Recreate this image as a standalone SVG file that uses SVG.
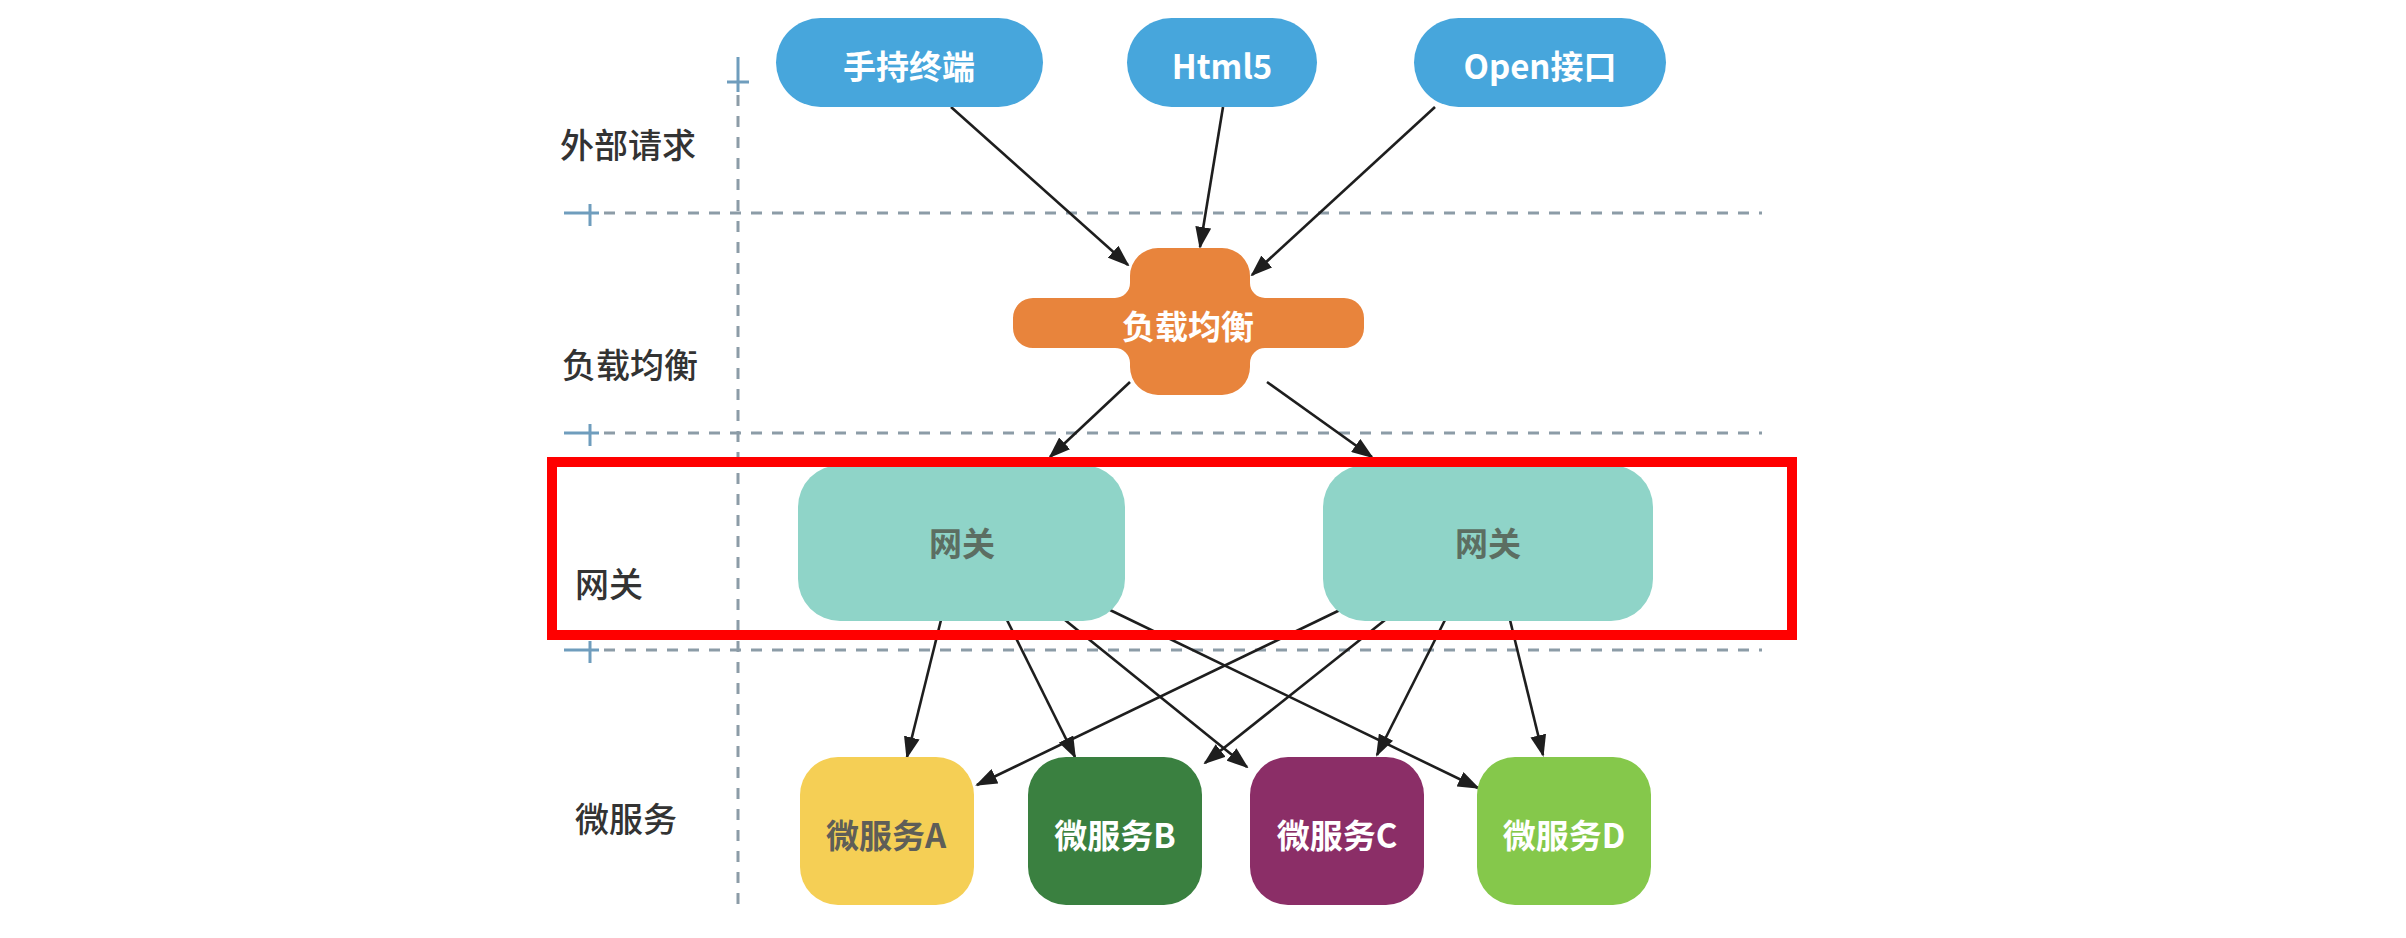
<svg xmlns="http://www.w3.org/2000/svg" width="2406" height="938" viewBox="0 0 2406 938">
<defs>
<marker id="arr" markerUnits="userSpaceOnUse" markerWidth="22" markerHeight="16" refX="20" refY="8" orient="auto">
<path d="M0,0 L22,8 L0,16 Z" fill="#1e1e1e"/>
</marker>
<style>
.lbl{font-family:"Noto Sans CJK SC","Noto Sans",sans-serif;font-size:34px;fill:#333;font-weight:500;dominant-baseline:central}
.nt{font-family:"Noto Sans CJK SC","Liberation Sans",sans-serif;font-size:33px;font-weight:700;text-anchor:middle;dominant-baseline:central}
.w{fill:#fff}
.grid{stroke:#8c9ca7;stroke-width:3;stroke-dasharray:11 10;fill:none}
.plus{stroke:#6f9dbd;stroke-width:3;fill:none}
.pill{fill:#47a6dc}
.gw{fill:#8fd4c8}
.conn line{stroke:#1e1e1e;stroke-width:2.6;marker-end:url(#arr)}
</style>
</defs>
<rect width="2406" height="938" fill="#fff"/>

<g id="grid">
<line class="grid" x1="738" y1="95" x2="738" y2="905"/>
<path class="plus" d="M727,82 H749 M738,57 V92"/>
<line class="grid" x1="604" y1="213" x2="1762" y2="213"/>
<path class="plus" d="M564,213 H599 M590,204 V226"/>
<line class="grid" x1="604" y1="433" x2="1762" y2="433"/>
<path class="plus" d="M564,433 H599 M590,424 V446"/>
<line class="grid" x1="604" y1="650" x2="1762" y2="650"/>
<path class="plus" d="M564,650 H599 M590,641 V663"/>
</g>

<g id="labels">
<text class="lbl" x="560" y="143">外部请求</text>
<text class="lbl" x="562" y="363">负载均衡</text>
<text class="lbl" x="575" y="582">网关</text>
<text class="lbl" x="575" y="817">微服务</text>
</g>

<g id="connectors" class="conn">
<line x1="951" y1="107" x2="1128" y2="265"/>
<line x1="1223" y1="107" x2="1200" y2="247"/>
<line x1="1435" y1="107" x2="1252" y2="275"/>
<line x1="1130" y1="382" x2="1050" y2="457"/>
<line x1="1267" y1="382" x2="1372" y2="457"/>
<line x1="941" y1="620" x2="907" y2="757"/>
<line x1="1007" y1="620" x2="1075" y2="757"/>
<line x1="1065" y1="620" x2="1247" y2="767"/>
<line x1="1110" y1="610" x2="1478" y2="788"/>
<line x1="1340" y1="610" x2="977" y2="785"/>
<line x1="1385" y1="620" x2="1205" y2="763"/>
<line x1="1445" y1="620" x2="1377" y2="755"/>
<line x1="1510" y1="620" x2="1543" y2="755"/>
</g>

<g id="n-mobile">
<rect class="pill" x="776" y="18" width="267" height="89" rx="44.5"/>
<text class="nt w" x="909" y="65">手持终端</text>
</g>
<g id="n-html5">
<rect class="pill" x="1127" y="18" width="190" height="89" rx="44.5"/>
<text class="nt w" x="1222" y="65">Html5</text>
</g>
<g id="n-open">
<rect class="pill" x="1414" y="18" width="252" height="89" rx="44.5"/>
<text class="nt w" x="1540" y="65">Open接口</text>
</g>

<g id="n-lb">
<path fill="#e8843c" d="M1158,248 H1222 A28,28 0 0 1 1250,276 V283 A15,15 0 0 0 1265,298 H1344 A20,20 0 0 1 1364,318 V328 A20,20 0 0 1 1344,348 H1265 A15,15 0 0 0 1250,363 V367 A28,28 0 0 1 1222,395 H1158 A28,28 0 0 1 1130,367 V363 A15,15 0 0 0 1115,348 H1033 A20,20 0 0 1 1013,328 V318 A20,20 0 0 1 1033,298 H1115 A15,15 0 0 0 1130,283 V276 A28,28 0 0 1 1158,248 Z"/>
<text class="nt w" x="1188" y="325">负载均衡</text>
</g>

<g id="n-gw1">
<rect class="gw" x="798" y="465" width="327" height="156" rx="42"/>
<text class="nt" x="962" y="542" fill="#5c6e62">网关</text>
</g>
<g id="n-gw2">
<rect class="gw" x="1323" y="465" width="330" height="156" rx="42"/>
<text class="nt" x="1488" y="542" fill="#5c6e62">网关</text>
</g>

<g id="n-msA">
<rect x="800" y="757" width="174" height="148" rx="38" fill="#f5cf55"/>
<text class="nt" x="886" y="834" fill="#5e5e58">微服务A</text>
</g>
<g id="n-msB">
<rect x="1028" y="757" width="174" height="148" rx="38" fill="#3a8040"/>
<text class="nt w" x="1115" y="834">微服务B</text>
</g>
<g id="n-msC">
<rect x="1250" y="757" width="174" height="148" rx="38" fill="#8b2e67"/>
<text class="nt w" x="1337" y="834">微服务C</text>
</g>
<g id="n-msD">
<rect x="1477" y="757" width="174" height="148" rx="38" fill="#85c84b"/>
<text class="nt w" x="1564" y="834">微服务D</text>
</g>

<rect id="highlight" x="552" y="462" width="1240" height="173" fill="none" stroke="#ff0000" stroke-width="10"/>
</svg>
